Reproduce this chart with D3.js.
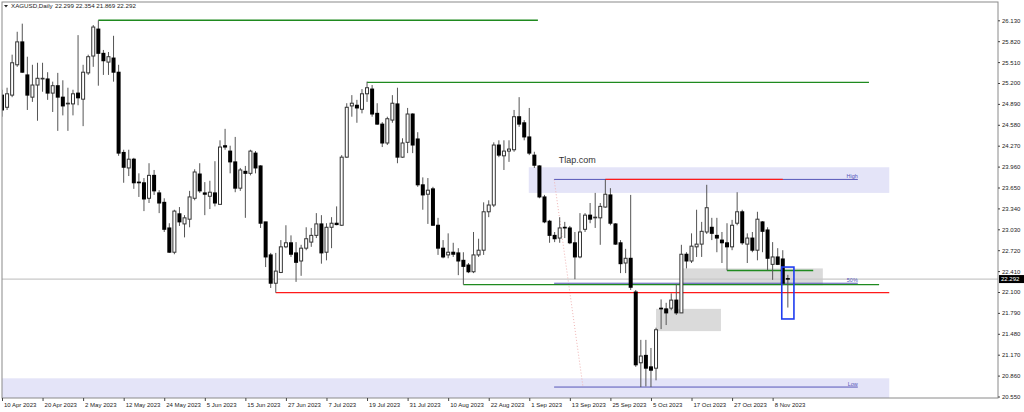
<!DOCTYPE html>
<html>
<head>
<meta charset="utf-8">
<script src="https://cdn.jsdelivr.net/npm/d3@7"></script>
<style>
  body { margin: 0; background: #fff; }
  svg text { font-family: "Liberation Sans", Arial, sans-serif; }
</style>
</head>
<body>
<div class="chart"></div>
<script>
// XAGUSD daily candles, 10 Apr 2023 .. 13 Nov 2023
const opens = [25.02,24.84,25.02,25.47,25.81,25.32,24.99,25.17,25.26,25.26,25.05,25.16,24.99,24.89,24.89,25.05,24.96,25.35,25.60,26.00,
  25.64,25.51,25.57,25.36,24.17,23.94,24.07,23.73,23.72,23.49,23.83,23.57,23.43,23.05,22.69,23.26,23.11,23.18,23.49,23.85,
  23.57,23.52,23.57,23.40,24.27,24.19,24.03,23.64,23.89,23.86,24.16,23.97,23.14,22.65,22.23,22.39,22.77,22.83,22.68,22.56,
  22.75,22.84,22.94,23.11,22.69,23.06,23.12,23.09,24.10,24.86,24.87,24.81,25.04,25.11,24.75,24.59,24.31,24.65,24.89,24.10,
  24.32,24.74,24.37,23.69,23.55,23.63,23.09,22.75,22.65,22.69,22.68,22.57,22.50,22.40,22.65,22.72,23.29,23.39,24.28,24.12,
  24.19,24.21,24.70,24.61,24.40,24.13,23.97,23.51,23.15,22.94,22.90,23.06,23.05,22.83,22.62,23.03,23.24,23.20,23.20,23.36,
  23.54,23.11,22.83,22.53,22.60,22.10,21.05,21.16,20.99,20.97,21.86,21.85,21.86,21.98,21.79,22.66,22.56,22.77,22.81,22.99,
  23.06,22.94,22.87,22.83,22.77,23.12,23.29,22.81,22.90,22.72,23.14,23.02,22.51,22.62,22.59,22.299];
const highs = [25.10,25.13,25.62,25.96,26.08,25.59,25.47,25.50,25.50,25.36,25.22,25.35,25.24,25.13,25.10,25.91,25.47,25.62,26.06,26.13,
  25.69,25.66,25.90,25.47,24.21,24.21,24.09,23.86,23.79,24.01,23.91,23.61,23.49,23.12,23.32,23.36,23.24,23.60,23.92,24.01,
  23.73,23.75,24.04,24.35,24.52,24.27,24.40,23.94,23.97,24.21,24.19,23.98,23.14,22.68,22.68,22.87,23.09,22.94,22.84,22.80,
  23.06,23.05,23.27,23.24,23.12,23.21,23.37,24.13,24.90,25.02,24.95,25.11,25.22,25.17,24.90,24.62,24.70,25.02,25.13,24.38,
  24.83,24.75,24.47,23.80,23.79,23.66,23.20,22.87,22.97,22.83,22.75,22.69,22.53,22.99,22.89,23.43,23.46,24.32,24.35,24.35,
  24.35,24.80,24.99,24.65,24.83,24.18,23.98,23.54,23.17,22.99,23.21,23.14,23.08,22.99,23.27,23.27,23.42,23.57,23.42,23.77,
  23.64,23.12,22.87,22.74,23.54,22.13,21.39,21.39,21.27,21.57,21.99,21.94,22.08,22.22,22.80,22.69,22.97,23.32,23.14,23.69,
  23.20,23.20,22.99,23.12,23.17,23.58,23.32,22.97,22.99,23.29,23.15,23.06,22.84,22.75,22.72,22.354];
const lows = [24.70,24.80,24.99,25.44,25.35,24.80,24.92,24.64,25.07,24.95,24.77,24.49,24.72,24.49,24.72,24.87,24.56,25.32,25.44,25.16,
  25.32,25.32,25.22,24.12,23.72,23.82,23.63,23.51,23.30,23.42,23.54,23.27,22.99,22.68,22.66,23.08,22.91,23.06,23.46,23.57,
  23.24,23.33,23.37,23.40,24.21,23.86,23.58,23.60,23.20,23.83,23.86,23.05,22.47,22.16,22.09,22.38,22.75,22.62,22.25,22.34,
  22.72,22.77,22.90,22.52,22.57,22.75,23.09,23.08,24.09,24.70,24.61,24.75,24.92,24.70,24.58,24.25,24.28,24.61,24.01,24.09,
  24.16,24.16,23.66,23.32,23.11,23.08,22.65,22.60,22.60,22.62,22.35,22.21,22.38,22.38,22.62,22.65,23.21,23.36,24.10,23.91,
  24.03,24.18,24.55,24.35,24.13,23.94,23.49,23.12,22.83,22.84,22.83,22.90,22.81,22.29,22.60,22.99,23.12,23.05,22.80,23.35,
  23.09,22.80,22.38,22.38,22.13,20.99,20.69,20.70,20.69,20.79,21.55,21.61,21.83,21.76,21.79,22.45,22.53,22.62,22.62,22.96,
  22.87,22.69,22.53,22.42,22.72,23.09,22.80,22.53,22.69,22.57,22.69,22.42,22.28,22.50,22.20,21.869];
const closes = [24.80,25.04,25.50,25.81,25.36,25.02,25.17,25.27,25.27,25.05,25.16,24.99,24.86,24.90,25.04,24.98,25.36,25.59,26.03,25.64,
  25.53,25.59,25.36,24.16,23.95,24.07,23.72,23.72,23.48,23.83,23.60,23.42,23.03,22.69,23.30,23.14,23.20,23.51,23.88,23.60,
  23.55,23.58,23.42,24.25,24.25,24.03,23.64,23.91,23.86,24.19,23.94,23.12,22.62,22.23,22.41,22.77,22.83,22.66,22.54,22.75,
  22.89,22.94,23.11,22.68,23.06,23.12,23.10,24.10,24.84,24.90,24.83,25.04,25.13,24.74,24.59,24.31,24.67,24.90,24.10,24.31,
  24.74,24.28,23.69,23.54,23.61,23.09,22.75,22.62,22.69,22.66,22.56,22.48,22.40,22.65,22.72,23.29,23.39,24.28,24.13,24.19,
  24.22,24.70,24.59,24.40,24.16,23.98,23.51,23.14,22.94,22.89,23.05,23.05,22.83,22.62,22.99,23.24,23.18,23.21,23.37,23.55,
  23.12,22.81,22.52,22.60,22.17,21.02,21.15,20.97,20.94,21.54,21.85,21.79,21.98,21.79,22.66,22.56,22.78,22.81,23.00,23.35,
  22.97,22.90,22.83,22.77,23.09,23.29,22.83,22.90,22.72,23.18,23.00,22.60,22.62,22.51,22.23,22.292];

// one date label every 8 bars
const dateLabels = ["10 Apr 2023","20 Apr 2023","2 May 2023","12 May 2023","24 May 2023","5 Jun 2023","15 Jun 2023",
  "27 Jun 2023","7 Jul 2023","19 Jul 2023","31 Jul 2023","10 Aug 2023","22 Aug 2023","1 Sep 2023","13 Sep 2023",
  "25 Sep 2023","5 Oct 2023","17 Oct 2023","27 Oct 2023","8 Nov 2023"];
const priceTicks = [26.13,25.82,25.51,25.2,24.89,24.58,24.27,23.96,23.65,23.34,23.03,22.72,22.41,22.1,21.79,21.48,21.17,20.86,20.55];

const symbolName = "XAGUSD,Daily";
const lastPrice = 22.292;

// drawn objects, in bar index / price terms
const levelLines = [
  {from: 19, to: 105.7, price: 26.13, kind: "green"},
  {from: 72, to: 171, price: 25.21, kind: "green"},
  {from: 119, to: 154, price: 23.77, kind: "red"},
  {from: 143, to: 160, price: 22.42, kind: "green"},
  {from: 91, to: 173, price: 22.21, kind: "green"},
  {from: 54, to: 175, price: 22.09, kind: "red"}
];
const zones = [
  {from: 103.9, to: 175, top: 23.95, bottom: 23.57, kind: "blue"},
  {from: -2, to: 175, top: 20.82, bottom: 20.45, kind: "blue"},
  {from: 134.1, to: 161.9, top: 22.45, bottom: 22.20, kind: "gray"},
  {from: 129, to: 141.8, top: 21.85, bottom: 21.52, kind: "gray"}
];
const fibLevels = [
  {label: "High", price: 23.77},
  {label: "50%", price: 22.23},
  {label: "Low", price: 20.69}
];
const fibFrom = 108.9, fibTo = 168.8, fibLowAt = 114.6;
const boxFrom = 153.8, boxTo = 156.2, boxTop = 22.47, boxBottom = 21.70;

const candles = opens.map((o, i) => ({i: i, o: o, h: highs[i], l: lows[i], c: closes[i]}));

const W = 1024, H = 412;
const frame = {left: 2, right: 998, top: 2, bottom: 398};

const svg = d3.select(".chart").append("svg")
    .attr("width", W)
    .attr("height", H)

const x = d3.scaleLinear().domain([0, 155]).range([2, 787.85]);
const y = d3.scaleLinear().domain([20.55, 26.13]).range([396.5, 20.3]);

const colors = {green: "#1f8a1f", red: "#ff1a1a", blue: "#e4e4f8", gray: "#dadada", fib: "#5656b8"};

svg.append("clipPath").attr("id", "plot")
  .append("rect").attr("x", frame.left).attr("y", frame.top)
  .attr("width", frame.right - frame.left).attr("height", frame.bottom - frame.top);

const plot = svg.append("g").attr("clip-path", "url(#plot)");

// zones in the back
plot.selectAll(".zone").data(zones).enter().append("rect")
    .attr("x", d => x(d.from))
    .attr("y", d => y(d.top))
    .attr("width", d => x(d.to) - x(d.from))
    .attr("height", d => y(d.bottom) - y(d.top))
    .attr("fill", d => colors[d.kind]);

// current price line
plot.append("line")
    .attr("x1", frame.left).attr("x2", frame.right)
    .attr("y1", y(lastPrice)).attr("y2", y(lastPrice))
    .attr("stroke", "#c8c8c8").attr("stroke-width", 1.2);

// fibonacci
plot.append("line")
    .attr("x1", x(fibFrom)).attr("y1", y(fibLevels[0].price))
    .attr("x2", x(fibLowAt)).attr("y2", y(fibLevels[2].price))
    .attr("stroke", "#f0b4b4").attr("stroke-width", 1)
    .attr("stroke-dasharray", "1,2");

plot.selectAll(".fib").data(fibLevels).enter().append("line")
    .attr("x1", x(fibFrom)).attr("x2", x(fibTo))
    .attr("y1", d => y(d.price)).attr("y2", d => y(d.price))
    .attr("stroke", colors.fib).attr("stroke-width", 1);

plot.selectAll(".fibtxt").data(fibLevels).enter().append("text")
    .attr("x", x(fibTo))
    .attr("y", d => y(d.price) - 1)
    .attr("text-anchor", "end")
    .attr("font-size", "5.5px")
    .attr("fill", colors.fib)
    .text(d => d.label);

// horizontal levels
plot.selectAll(".lvl").data(levelLines).enter().append("line")
    .attr("x1", d => x(d.from)).attr("x2", d => x(d.to))
    .attr("y1", d => y(d.price)).attr("y2", d => y(d.price))
    .attr("stroke", d => colors[d.kind])
    .attr("stroke-width", 1.4);

// candles
const cg = plot.append("g");
cg.selectAll(".wick").data(candles).enter().append("line")
    .attr("x1", d => x(d.i)).attr("x2", d => x(d.i))
    .attr("y1", d => y(d.h)).attr("y2", d => y(d.l))
    .attr("stroke", "#555").attr("stroke-width", 1);

cg.selectAll(".body").data(candles).enter().append("rect")
    .attr("x", d => d.c >= d.o ? x(d.i) - 1.5 : x(d.i) - 2)
    .attr("width", d => d.c >= d.o ? 3 : 4)
    .attr("y", d => y(Math.max(d.o, d.c)) + (d.c >= d.o ? 0 : -0.5))
    .attr("height", d => Math.max(y(Math.min(d.o, d.c)) - y(Math.max(d.o, d.c)), 0.6) + (d.c >= d.o ? 0 : 1))
    .attr("fill", d => d.c >= d.o ? "#fff" : "#000")
    .attr("stroke", d => d.c >= d.o ? "#333" : "none")
    .attr("stroke-width", 1);

// highlight box on last candle
plot.append("rect")
    .attr("x", x(boxFrom)).attr("y", y(boxTop))
    .attr("width", x(boxTo) - x(boxFrom))
    .attr("height", y(boxBottom) - y(boxTop))
    .attr("fill", "none").attr("stroke", "#1f3cf0").attr("stroke-width", 1.6);

plot.append("text")
    .attr("x", x(109.8)).attr("y", 163)
    .attr("font-size", "9px")
    .attr("fill", "#333")
    .text("Tlap.com");

// frame
svg.append("rect")
    .attr("x", frame.left).attr("y", frame.top)
    .attr("width", frame.right - frame.left).attr("height", frame.bottom - frame.top)
    .attr("fill", "none").attr("stroke", "#8a8a8a").attr("stroke-width", 1);

// price axis
const yAxis = d3.axisRight(y)
    .tickValues(priceTicks)
    .tickSize(2)
    .tickPadding(2)
    .tickFormat(d3.format(".3f"));

svg.append("g")
    .attr("class", "axis y-axis")
    .attr("transform", `translate(${frame.right},0)`)
    .call(yAxis)
    .call(g => g.select(".domain").remove())
    .call(g => g.selectAll(".tick line").attr("stroke", "#444"))
    .call(g => g.selectAll(".tick text").attr("font-size", "6px").attr("fill", "#222")
        .attr("font-family", "Liberation Sans, Arial, sans-serif"));

// last price tag
svg.append("rect")
    .attr("x", frame.right + 1).attr("y", y(lastPrice) - 4)
    .attr("width", W - frame.right - 1).attr("height", 8)
    .attr("fill", "#000");
svg.append("text")
    .attr("x", frame.right + 3).attr("y", y(lastPrice) + 2.2)
    .attr("font-size", "6px").attr("fill", "#fff")
    .text(d3.format(".3f")(lastPrice));

// time axis
const xAxis = d3.axisBottom(x)
    .tickValues(dateLabels.map((d, k) => k * 8))
    .tickSize(3)
    .tickFormat((d, k) => dateLabels[k]);

svg.append("g")
    .attr("class", "axis x-axis")
    .attr("transform", `translate(0,${frame.bottom})`)
    .call(xAxis)
    .call(g => g.select(".domain").remove())
    .call(g => g.selectAll(".tick line").attr("stroke", "#444"))
    .call(g => g.selectAll(".tick text")
        .attr("text-anchor", "start")
        .attr("x", 1.5).attr("y", 9).attr("dy", 0)
        .attr("font-size", "6px").attr("fill", "#222")
        .attr("font-family", "Liberation Sans, Arial, sans-serif"));

// header
svg.append("path")
    .attr("d", "M4,5 L8,5 L6,7.5 Z")
    .attr("fill", "#222");
svg.append("text")
    .attr("x", 11).attr("y", 8.3)
    .attr("font-size", "6.2px").attr("fill", "#222")
    .text(symbolName);
svg.append("text")
    .attr("x", 55).attr("y", 8.3)
    .attr("font-size", "6.2px").attr("fill", "#222")
    .text(opens[155].toFixed(3) + " " + highs[155].toFixed(3) + " " + lows[155].toFixed(3) + " " + closes[155].toFixed(3));
</script>
</body>
</html>
